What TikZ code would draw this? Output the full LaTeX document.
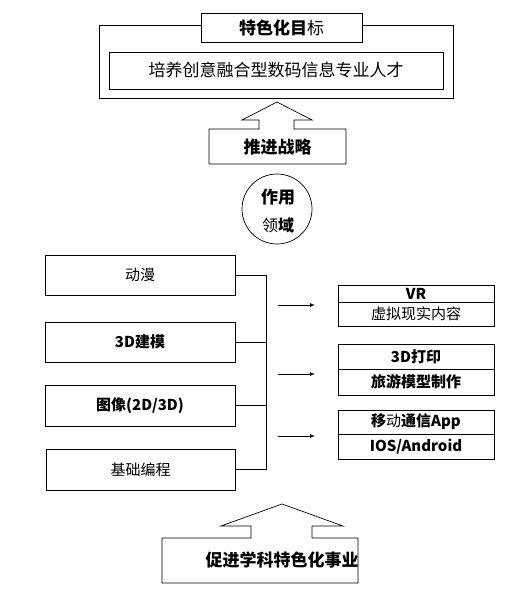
\documentclass[tikz,border=0pt]{standalone}
\usepackage{fontspec}
\setmainfont{Noto Sans CJK SC}
\begin{document}
\begin{tikzpicture}[x=1pt,y=-1pt,
  line width=0.7pt,
  box/.style={draw, inner sep=0pt, outer sep=0pt, fill=white},
  big/.style={font=\fontsize{17}{20}\selectfont},
  mid/.style={font=\fontsize{15}{18}\selectfont},
  txt/.style={inner sep=0pt},
  arr/.style={-latex, line width=0.7pt}
]
\useasboundingbox (0,0) rectangle (522,596);
% top goal block
\node[box, fill=none, minimum width=354pt, minimum height=73pt] (outer) at (276,61.5) {};
\node[box, big, minimum width=161pt, minimum height=29pt] (title) at (281.5,27.5) {\textbf{特色化目}标};
\node[box, big, minimum width=334pt, minimum height=37pt] (goal) at (276,70.5) {培养创意融合型数码信息专业人才};
% strategy block arrow
\draw (209,164) -- (209,129) -- (259,129) -- (259,120) -- (242,120) -- (277,102)
  -- (312,120) -- (294,120) -- (294,129) -- (346,129) -- (346,164) -- cycle;
\node[txt, big] (strategy) at (277.5,147) {\textbf{推进战略}};
% circle
\node[draw, circle, minimum size=70pt, inner sep=0pt] (field) at (277,209) {};
\node[txt, font=\fontsize{17}{20}\selectfont] (fieldA) at (278,197) {\textbf{作用}};
\node[txt, font=\fontsize{16}{19}\selectfont] (fieldB) at (278,225) {领\textbf{域}};
% left boxes
\node[box, mid, minimum width=190pt, minimum height=40pt] (l1) at (140,275) {动漫};
\node[box, mid, minimum width=190pt, minimum height=40pt] (l2) at (140,342) {\textbf{3D建模}};
\node[box, mid, minimum width=190pt, minimum height=41pt] (l3) at (140,405.5) {\textbf{图像(2D/3D)}};
\node[box, mid, minimum width=189pt, minimum height=41pt] (l4) at (140.5,469.5) {基础编程};
% bracket
\coordinate (b1) at (266,275);
\coordinate (b2) at (266,342);
\coordinate (b3) at (266,405.5);
\coordinate (b4) at (266,469.5);
\draw (l1.east) -- (b1) -- (b4) -- (l4.east);
\draw (l2.east) -- (b2);
\draw (l3.east) -- (b3);
% arrows
\coordinate (a1s) at (278,305); \coordinate (a1e) at (315,305);
\coordinate (a2s) at (278,374); \coordinate (a2e) at (315,374);
\coordinate (a3s) at (278,436); \coordinate (a3e) at (315,436);
\draw[arr] (a1s) -- (a1e);
\draw[arr] (a2s) -- (a2e);
\draw[arr] (a3s) -- (a3e);
% right boxes
\node[box, mid, minimum width=156pt, minimum height=17pt] (r1a) at (416,293.5) {\textbf{VR}};
\node[box, mid, minimum width=156pt, minimum height=24pt] (r1b) at (416,314) {虚拟现实内容};
\node[box, mid, minimum width=156pt, minimum height=25pt] (r2a) at (416,356.5) {\textbf{3D打印}};
\node[box, mid, minimum width=156pt, minimum height=26pt] (r2b) at (416,382) {\textbf{旅游模型制作}};
\node[box, mid, minimum width=156pt, minimum height=24pt] (r3a) at (416,422) {\textbf{移}动\textbf{通信App}};
\node[box, mid, minimum width=156pt, minimum height=25pt] (r3b) at (416,446.5) {\textbf{IOS/Android}};
% bottom block arrow
\draw (162,583) -- (162,538) -- (251,538) -- (251,526) -- (221,526) -- (282,504)
  -- (343,526) -- (312,526) -- (312,538) -- (358,538) -- (358,583) -- cycle;
\node[txt, big] (bottom) at (282,560) {\textbf{促进学科特色化事业}};
\end{tikzpicture}
\end{document}
